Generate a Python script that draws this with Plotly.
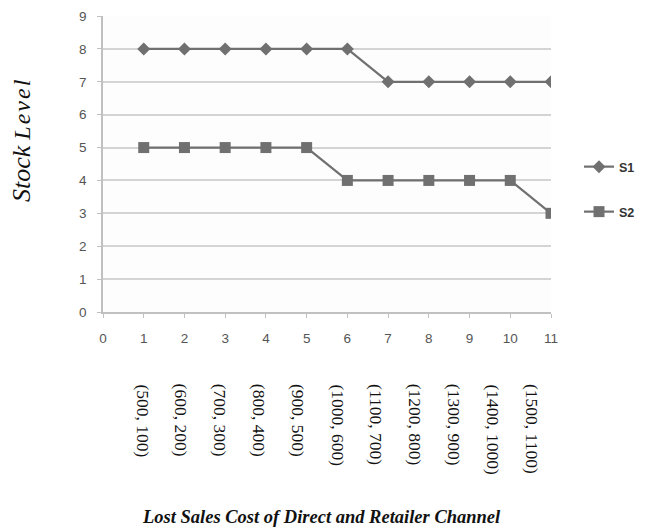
import plotly.graph_objects as go

x_vals = list(range(1, 12))
s1 = [8, 8, 8, 8, 8, 8, 7, 7, 7, 7, 7]
s2 = [5, 5, 5, 5, 5, 4, 4, 4, 4, 4, 3]
cost_labels = ["(500, 100)", "(600, 200)", "(700, 300)", "(800, 400)", "(900, 500)",
               "(1000, 600)", "(1100, 700)", "(1200, 800)", "(1300, 900)",
               "(1400, 1000)", "(1500, 1100)"]
x_ticks = list(range(0, 12))
y_ticks = list(range(0, 10))

# page body has an 8px margin: work in reference pixels and shift
OFF = 8
W, H = 645 - OFF, 532 - OFF
L, R, T, B = 103 - OFF, 645 - 551, 16 - OFF, 532 - 312
PW, PH = W - L - R, H - T - B
line_col = "#707070"


def px_x(p):
    return (p - OFF - L) / PW


def px_y(p):
    return (H - B - (p - OFF)) / PH


fig = go.Figure()
fig.add_trace(go.Scatter(x=x_vals, y=s1, mode="lines+markers", name="<b>S1</b>",
                         legend="legend",
                         line=dict(color=line_col, width=2.2),
                         marker=dict(symbol="diamond", size=10, color=line_col)))
fig.add_trace(go.Scatter(x=x_vals, y=s2, mode="lines+markers", name="<b>S2</b>",
                         legend="legend2",
                         line=dict(color=line_col, width=2.2),
                         marker=dict(symbol="square", size=11, color=line_col)))

annotations = []
for i, lab in enumerate(cost_labels):
    px = 143 + i * 38.9
    annotations.append(dict(text=lab, x=px_x(px), xref="paper",
                            y=px_y(382), yref="paper",
                            xanchor="center", yanchor="top", textangle=90,
                            showarrow=False,
                            font=dict(family="Liberation Serif", size=17.5, color="#111")))
level = "\u200a".join("Level")
annotations.append(dict(text="<i><span style='font-size:26px'>Stock</span> <span style='font-size:24px'>" + level + "</span></i>",
                        x=px_x(21), xref="paper",
                        y=px_y(141), yref="paper",
                        xanchor="center", yanchor="middle", textangle=-90, showarrow=False,
                        font=dict(family="Liberation Serif", size=24, color="#111")))
annotations.append(dict(text="<b><i>Lost Sales Cost of Direct and Retailer Channel</i></b>",
                        x=px_x(321), xref="paper",
                        y=px_y(517), yref="paper",
                        xanchor="center", yanchor="middle", showarrow=False,
                        font=dict(family="Liberation Serif", size=18.5, color="#111")))

leg_font = dict(family="Liberation Sans", size=12.5, color="#333")
fig.update_layout(
    width=W, height=H, autosize=False,
    margin=dict(l=L, r=R, t=T, b=B, autoexpand=False),
    paper_bgcolor="white", plot_bgcolor="#fdfdfd",
    showlegend=True,
    legend=dict(x=px_x(579), y=px_y(167), xanchor="left", yanchor="middle",
                font=leg_font, itemwidth=30, bgcolor="rgba(0,0,0,0)"),
    legend2=dict(x=px_x(579), y=px_y(212), xanchor="left", yanchor="middle",
                 font=leg_font, itemwidth=30, bgcolor="rgba(0,0,0,0)"),
    annotations=annotations,
    xaxis=dict(range=[0, 11], tickvals=x_ticks, showgrid=False, zeroline=False,
               showline=True, linecolor="#c0c0c0", linewidth=1.5,
               ticks="outside", ticklen=4, tickcolor="#c0c0c0",
               ticklabelstandoff=9,
               tickfont=dict(family="Liberation Sans", size=13.5, color="#555")),
    yaxis=dict(range=[0, 9], tickvals=y_ticks, showgrid=True, gridcolor="#d4d4d4",
               gridwidth=1.5, zeroline=False, showline=True, linecolor="#c0c0c0",
               linewidth=1.5, ticks="outside", ticklen=4, tickcolor="#c0c0c0",
               ticklabelstandoff=8,
               tickfont=dict(family="Liberation Sans", size=13.5, color="#555")),
)

fig.write_html("out.html")
